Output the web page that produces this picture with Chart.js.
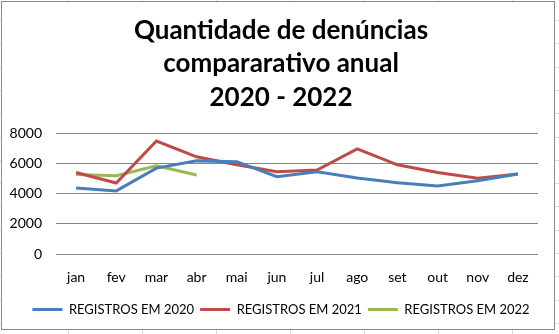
<!DOCTYPE html>
<html>
<head>
<meta charset="utf-8">
<script src="https://cdn.jsdelivr.net/npm/chart.js@4/dist/chart.umd.min.js"></script>
<style>
  html, body { margin: 0; padding: 0; background: #fff; }
  #wrap {
    position: relative; width: 559px; height: 334px; overflow: hidden;
    /* grade da planilha por trás do gráfico */
    background:
      repeating-linear-gradient(to bottom, transparent 0, transparent 20px, #d9d9d9 20px, #d9d9d9 21px, transparent 21px, transparent 23.3px),
      repeating-linear-gradient(to right, transparent 0, transparent 68px, #d9d9d9 68px, #d9d9d9 69px, transparent 69px, transparent 74px),
      #fff;
  }
  #frame { position: absolute; left: 1px; top: 1px; width: 552px; height: 327px; border: 1px solid #8a8a8a; background: #fff; }
  #chart { position: absolute; left: 0; top: 0; }
</style>
</head>
<body>
<div id="wrap">
  <div id="frame"></div>
  <canvas id="chart" width="559" height="334"></canvas>
</div>
<script>
// meses e registros
const months = ['jan', 'fev', 'mar', 'abr', 'mai', 'jun', 'jul', 'ago', 'set', 'out', 'nov', 'dez']
const reg2020 = [4400, 4200, 5720, 6200, 6150, 5150, 5480, 5060, 4750, 4530, 4880, 5320]
const reg2021 = [5430, 4730, 7520, 6470, 5940, 5480, 5590, 7000, 5940, 5430, 5040, 5320]
const reg2022 = [5300, 5210, 5870, 5260]
const yTicks = [0, 2000, 4000, 6000, 8000]
const titleLines = ['Quantidade de denúncias', 'compararativo anual', '2020 - 2022']

const FONT = 'Lato, Calibri, sans-serif'

function line(label, data, color) {
  return {
    label,
    data,
    borderColor: color,
    backgroundColor: color,
    borderWidth: 3,
    pointRadius: 0,
    tension: 0,
    fill: false
  }
}

// título e legenda ficam centrados na caixa toda, não só na área do gráfico
const centerBlocks = {
  id: 'centerBlocks',
  afterLayout(chart) {
    chart.titleBlock.left += 24
    chart.legend.left += 24
  }
}

new Chart(document.getElementById('chart').getContext('2d'), {
  type: 'line',
  data: {
    labels: months,
    datasets: [
      line('REGISTROS EM 2020', reg2020, '#4a7ebb'),
      line('REGISTROS EM 2021', reg2021, '#be4b48'),
      line('REGISTROS EM 2022', reg2022, '#98b954')
    ]
  },
  options: {
    responsive: false,
    animation: false,
    layout: { padding: { left: 0, right: 21, top: 0, bottom: 8 } },
    plugins: {
      title: {
        display: true,
        text: titleLines,
        color: '#000',
        font: { family: FONT, size: 26, weight: 'bold', lineHeight: 1.28 },
        padding: { top: 14, bottom: 20 }
      },
      legend: {
        position: 'bottom',
        labels: {
          color: '#000',
          font: { family: FONT, size: 13 },
          usePointStyle: true,
          pointStyle: 'line',
          pointStyleWidth: 30,
          padding: 6
        }
      },
      tooltip: { enabled: false }
    },
    scales: {
      x: {
        offset: true,
        afterFit: s => { s.height = 43 },
        grid: { display: false },
        border: { display: false },
        ticks: { color: '#000', font: { family: FONT, size: 14 }, padding: 7, maxRotation: 0 }
      },
      y: {
        min: 0,
        max: 8000,
        afterFit: s => { s.width = 56 },
        afterBuildTicks: s => { s.ticks = yTicks.map(v => ({ value: v })) },
        grid: { color: '#868686', drawTicks: false },
        border: { display: false },
        ticks: { color: '#000', font: { family: FONT, size: 14 }, padding: 14, callback: v => String(v) }
      }
    }
  },
  plugins: [centerBlocks]
})
</script>
</body>
</html>
